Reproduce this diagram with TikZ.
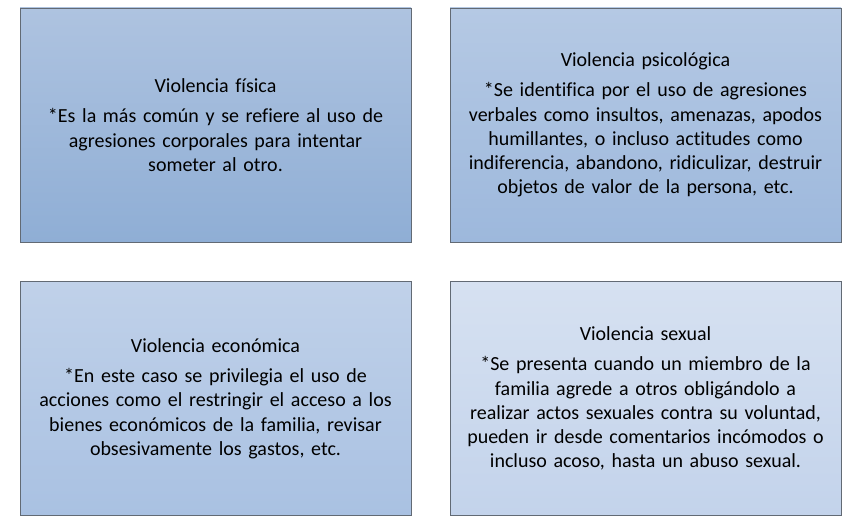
\documentclass[tikz,border=0pt]{standalone}
\usepackage{fontspec}
\setmainfont[Ligatures=NoCommon]{Carlito}
\usepackage{tikz}
\usetikzlibrary{positioning}

\definecolor{boxline}{RGB}{98,106,116}
\definecolor{fisTop}{HTML}{AEC3E0}
\definecolor{fisBot}{HTML}{8FAED5}
\definecolor{psiTop}{HTML}{B5C9E4}
\definecolor{psiBot}{HTML}{9DB8DC}
\definecolor{ecoTop}{HTML}{C0D1E9}
\definecolor{ecoBot}{HTML}{A9C1E2}
\definecolor{sexTop}{HTML}{D6E1F1}
\definecolor{sexBot}{HTML}{C3D3EB}

\tikzset{
  tipo/.style={draw=boxline, line width=0.8pt, rectangle,
    minimum width=391pt, minimum height=234pt, text width=385pt,
    inner xsep=2pt, align=center, font=\fontsize{20}{24.3}\selectfont}
}

\begin{document}
\begin{tikzpicture}[x=1pt, y=-1pt]
  \useasboundingbox (0,0) rectangle (860,526);

  % Upper row
  \node[tipo, top color=fisTop, bottom color=fisBot] (fisica) at (215.5,125)
    {Violencia física\\[6pt]
     *Es la más común y se refiere al uso de\\
     agresiones corporales para intentar\\
     someter al otro.};
  \node[tipo, top color=psiTop, bottom color=psiBot] (psico) at (645.5,125)
    {Violencia psicológica\\[6pt]
     *Se identifica por el uso de agresiones\\
     verbales como insultos, amenazas, apodos\\
     humillantes, o incluso actitudes como\\
     indiferencia, abandono, ridiculizar, destruir\\
     objetos de valor de la persona, etc.};

  % Lower row
  \node[tipo, top color=ecoTop, bottom color=ecoBot] (economica) at (215.5,398.5)
    {Violencia económica\\[6pt]
     *En este caso se privilegia el uso de\\
     acciones como el restringir el acceso a los\\
     bienes económicos de la familia, revisar\\
     obsesivamente los gastos, etc.};
  \node[tipo, top color=sexTop, bottom color=sexBot] (sexual) at (645.5,398.5)
    {Violencia sexual\\[6pt]
     *Se presenta cuando un miembro de la\\
     familia agrede a otros obligándolo a\\
     realizar actos sexuales contra su voluntad,\\
     pueden ir desde comentarios incómodos o\\
     incluso acoso, hasta un abuso sexual.};
\end{tikzpicture}
\end{document}
